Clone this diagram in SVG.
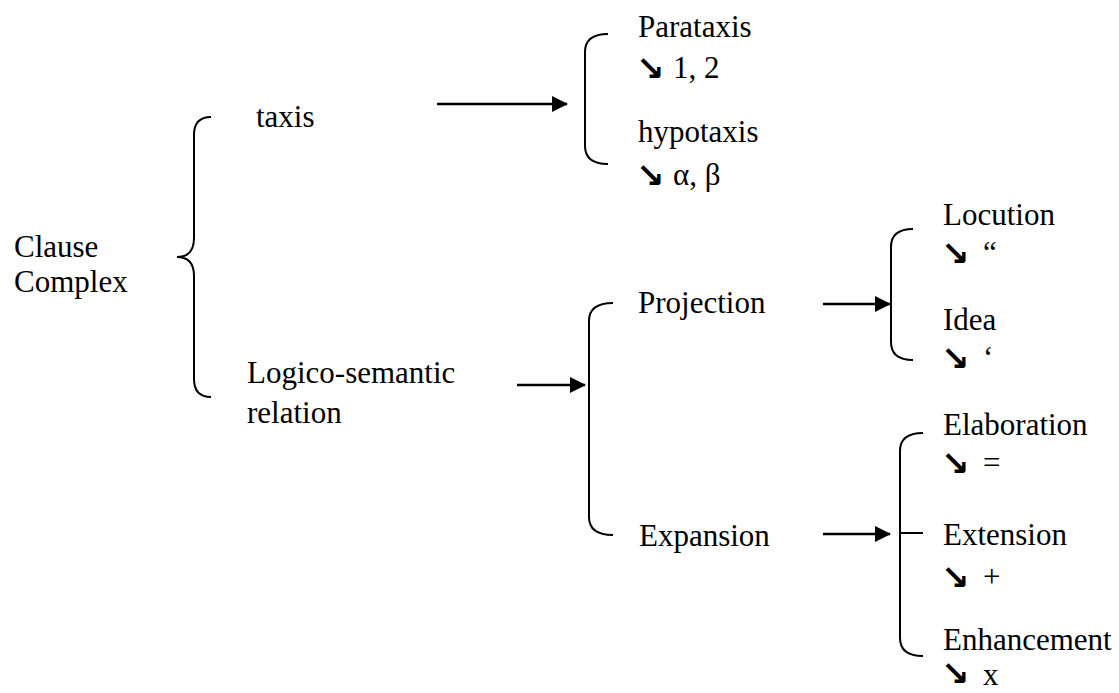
<svg xmlns="http://www.w3.org/2000/svg" width="1119" height="693" viewBox="0 0 1119 693">
<defs>
<style>
text{font-family:"Liberation Serif","Times New Roman",serif;font-size:31px;fill:#000}
.ar{font-family:"DejaVu Sans",sans-serif;font-weight:bold;font-size:34px}
.br{fill:none;stroke:#000;stroke-width:2}
.cn{fill:none;stroke:#000;stroke-width:2.5}
</style>
<marker id="ah" markerUnits="userSpaceOnUse" markerWidth="16" markerHeight="16" viewBox="0 0 16 16" refX="15" refY="8" orient="auto">
<path d="M0,0 L16,8 L0,16 Z" fill="#000"/>
</marker>
</defs>
<rect width="1119" height="693" fill="#fff"/>
<g id="clause-complex">
<text x="14" y="257">Clause</text>
<text x="14" y="292">Complex</text>
<path class="br" d="M211,117 Q194,117 194,135 L194,238 Q194,257 177,257 Q194,257 194,276 L194,379 Q194,397 211,397"/>
</g>
<g id="taxis"><text x="256" y="127">taxis</text></g>
<g id="logico"><text x="247" y="383">Logico-semantic</text><text x="247" y="423">relation</text></g>
<g id="taxis-bracket">
<path class="br" d="M608,34 Q585,34 585,52 L585,146 Q585,164 608,164"/>
<text x="638" y="37">Parataxis</text>
<text class="ar" x="636" y="80">↘</text><text x="673" y="78">1, 2</text>
<text x="638" y="142">hypotaxis</text>
<text class="ar" x="636" y="187">↘</text><text x="673" y="185">α, β</text>
</g>
<g id="logico-bracket">
<path class="br" d="M613,303 Q589,303 589,321 L589,517 Q589,535 613,535"/>
<text x="638" y="313">Projection</text>
<text x="639" y="546">Expansion</text>
</g>
<g id="projection-bracket">
<path class="br" d="M913,229 Q891,229 891,247 L891,342 Q891,360 913,360"/>
<text x="943" y="225">Locution</text>
<text class="ar" x="941" y="265">↘</text><text x="983" y="263">“</text>
<text x="943" y="330">Idea</text>
<text class="ar" x="941" y="370">↘</text><text x="983" y="368">‘</text>
</g>
<g id="expansion-bracket">
<path class="br" d="M923,433 Q900,433 900,451 L900,638 Q900,656 923,656 M900,533 L923,533"/>
<text x="943" y="435">Elaboration</text>
<text class="ar" x="941" y="475">↘</text><text x="983" y="473">=</text>
<text x="943" y="545">Extension</text>
<text class="ar" x="941" y="589">↘</text><text x="983" y="587">+</text>
<text x="943" y="650">Enhancement</text>
<text class="ar" x="941" y="685">↘</text><text x="983" y="685">x</text>
</g>
<g id="connectors">
<line class="cn" x1="437" y1="104" x2="567" y2="104" marker-end="url(#ah)"/>
<line class="cn" x1="517" y1="385" x2="585" y2="385" marker-end="url(#ah)"/>
<line class="cn" x1="823" y1="304" x2="890" y2="304" marker-end="url(#ah)"/>
<line class="cn" x1="823" y1="534" x2="890" y2="534" marker-end="url(#ah)"/>
</g>
</svg>
